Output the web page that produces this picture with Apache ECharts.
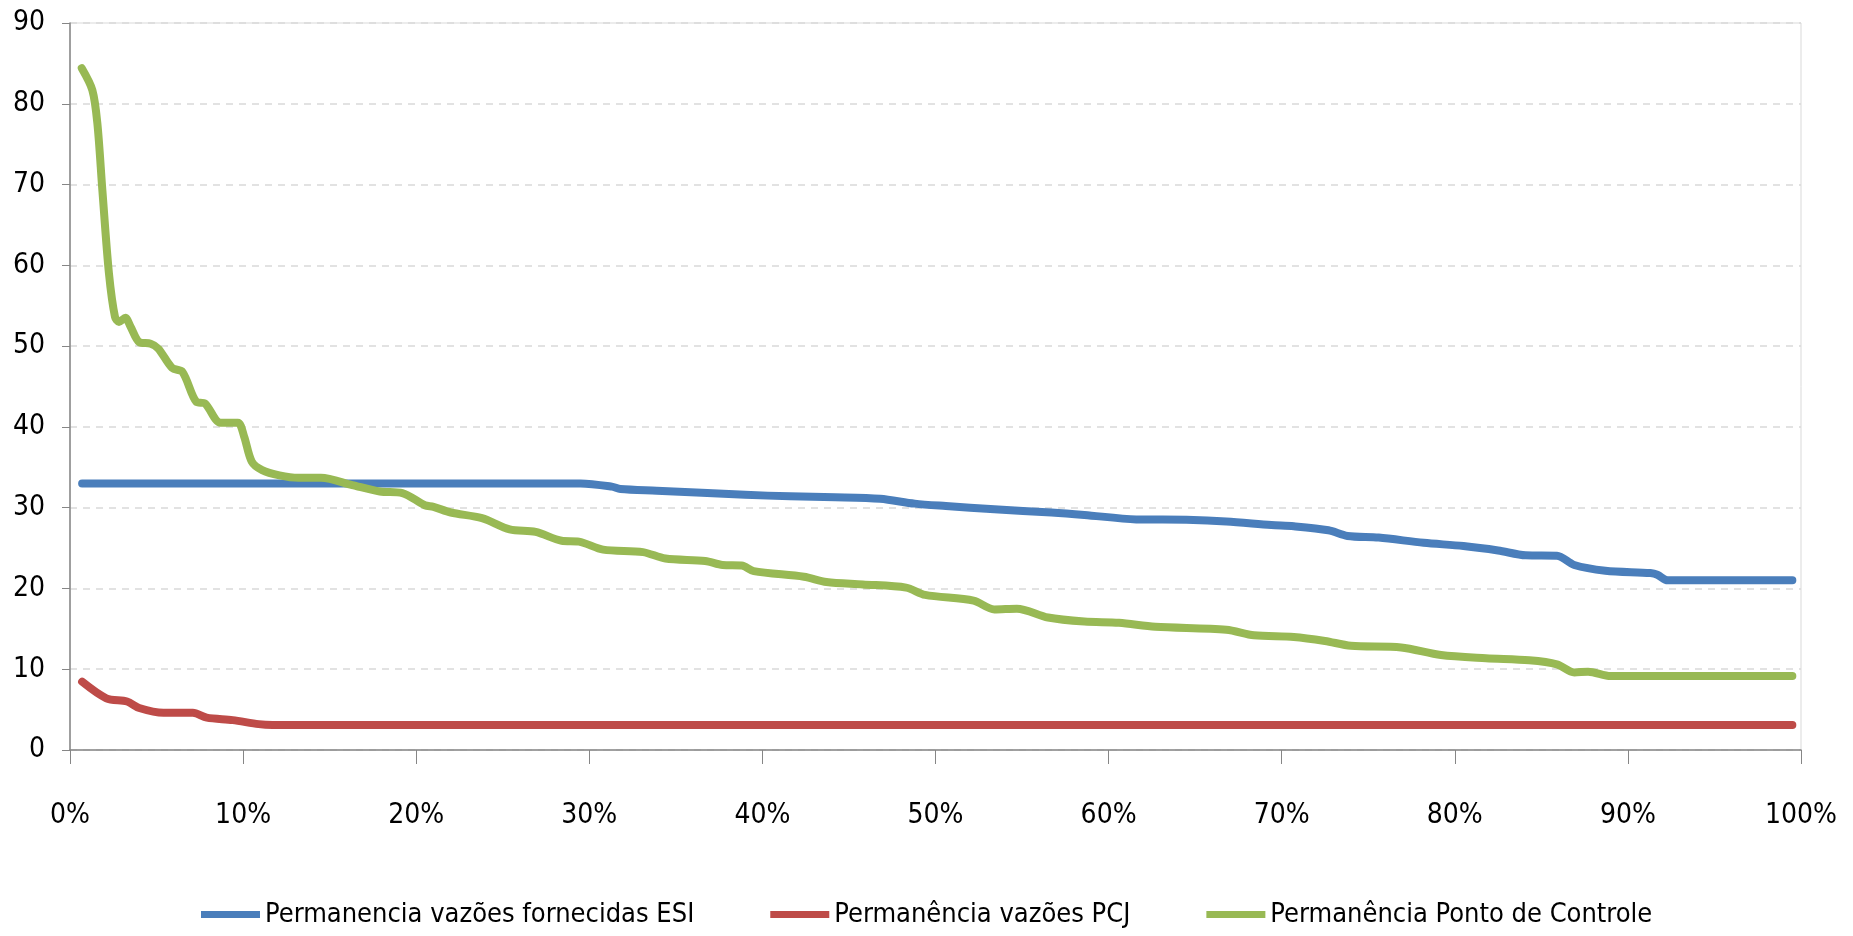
<!DOCTYPE html>
<html>
<head>
<meta charset="utf-8">
<script src="https://cdn.jsdelivr.net/npm/echarts@6/dist/echarts.min.js"></script>
<style>
html,body{margin:0;padding:0;background:#fff;}
#chart{width:1853px;height:936px;}
</style>
</head>
<body>
<div id="chart"></div>
<script>
// Tick labels
const xTicks = [0,10,20,30,40,50,60,70,80,90,100];
const yTicks = [0,10,20,30,40,50,60,70,80,90];
const seriesNames = ['Permanencia vazões fornecidas ESI','Permanência vazões PCJ','Permanência Ponto de Controle'];

// Permanencia vazões fornecidas ESI (exceedance %, flow)
const esiPct = [0.7,5,10,15,20,25,29.5,31.3,31.8,33.9,36.5,39.0,41.6,44.2,46.8,48.8,50.6,53.4,56.7,58.6,61.6,64.5,66.8,69.4,70.7,72.7,73.8,75.6,78.2,80.5,82.5,84.1,85.9,86.9,88.7,91.3,91.7,92.3,95,99.5];
const esiVal = [33.0,33.0,33.0,33.0,33.0,33.0,33.0,32.6,32.3,32.1,31.85,31.6,31.4,31.3,31.1,30.5,30.2,29.8,29.4,29.1,28.55,28.5,28.3,27.85,27.7,27.2,26.5,26.3,25.65,25.25,24.7,24.1,24.05,22.9,22.2,21.9,21.7,21.0,21.0,21.0];

// Permanência vazões PCJ
const pcjPct = [0.7,2.1,3.3,4.0,5.4,7.1,7.9,9.4,10.9,11.7,20,40,60,80,99.5];
const pcjVal = [8.45,6.4,6.0,5.2,4.6,4.6,4.0,3.7,3.2,3.1,3.1,3.1,3.1,3.1,3.1];

// Permanência Ponto de Controle
const pcPct = [0.68,1.29,1.58,1.87,2.25,2.6,2.83,3.2,3.5,4.0,4.66,5.1,5.9,6.5,7.3,7.8,8.7,9.7,10.06,10.5,11.1,12.1,13.2,14.5,16.3,17.9,19.2,20.5,21.0,22.0,23.8,25.4,26.9,28.4,29.4,30.8,33.1,34.4,36.7,37.7,38.8,39.5,42.4,43.7,45.8,48.3,49.4,52.2,53.4,54.7,56.5,58.6,60.6,62.7,66.8,68.4,70.7,72.5,74.0,76.9,79.2,81.8,84.3,85.9,86.9,87.7,89.0,95,99.5];
const pcVal = [84.4,81.7,77.6,69.3,59.0,53.6,53.0,53.5,52.4,50.5,50.3,49.7,47.3,46.8,43.1,42.9,40.5,40.5,38.8,35.7,34.65,34.0,33.7,33.7,32.8,32.0,31.8,30.3,30.1,29.4,28.7,27.3,27.0,25.9,25.8,24.8,24.5,23.7,23.4,22.9,22.85,22.15,21.45,20.8,20.5,20.1,19.2,18.5,17.4,17.5,16.4,15.9,15.75,15.26,14.9,14.2,14.0,13.5,12.9,12.7,11.75,11.35,11.1,10.6,9.6,9.7,9.15,9.15,9.15];

const colors = ['#4A7EBB','#BE4B48','#98B954'];
const FONT = '"DejaVu Sans Condensed","Liberation Sans Narrow","DejaVu Sans",sans-serif';
const FS = 28;

function pairs(xs, ys){ return xs.map((x,i)=>[x, ys[i]]); }

const chart = echarts.init(document.getElementById('chart'));
chart.setOption({
  animation: false,
  backgroundColor: '#fff',
  color: colors,
  grid: {left: 70, right: 52, top: 23, bottom: 186, show: true, borderColor: '#d9d9d9', borderWidth: 1},
  legend: {
    top: 896,
    left: 196,
    itemWidth: 59,
    itemHeight: 7,
    itemGap: 76,
    icon: 'rect',
    textStyle: {fontFamily: FONT, fontSize: 27, color: '#000'},
    data: seriesNames
  },
  xAxis: {
    type: 'value',
    min: xTicks[0], max: xTicks[xTicks.length-1], interval: 10,
    axisLine: {show: true, lineStyle: {color: '#868686', width: 1.5}},
    axisTick: {show: true, length: 14, lineStyle: {color: '#868686'}},
    splitLine: {show: false},
    axisLabel: {formatter: '{value}%', fontFamily: FONT, fontSize: FS, color: '#000', margin: 52, showMaxLabel: true, showMinLabel: true}
  },
  yAxis: {
    type: 'value',
    min: yTicks[0], max: yTicks[yTicks.length-1], interval: 10,
    axisLine: {show: true, lineStyle: {color: '#868686', width: 1.5}},
    axisTick: {show: true, length: 8, lineStyle: {color: '#868686'}},
    splitLine: {show: true, lineStyle: {color: '#d9d9d9', type: [7,6], width: 1.5}},
    axisLabel: {fontFamily: FONT, fontSize: FS, color: '#000', margin: 25}
  },
  series: [
    {name: seriesNames[0], type: 'line', data: pairs(esiPct, esiVal), showSymbol: false, smooth: 0.3, lineStyle: {width: 8, cap: 'round', join: 'round'}},
    {name: seriesNames[1], type: 'line', data: pairs(pcjPct, pcjVal), showSymbol: false, smooth: 0.3, lineStyle: {width: 8, cap: 'round', join: 'round'}},
    {name: seriesNames[2], type: 'line', data: pairs(pcPct, pcVal), showSymbol: false, smooth: 0.3, lineStyle: {width: 8, cap: 'round', join: 'round'}}
  ]
});
</script>
</body>
</html>
